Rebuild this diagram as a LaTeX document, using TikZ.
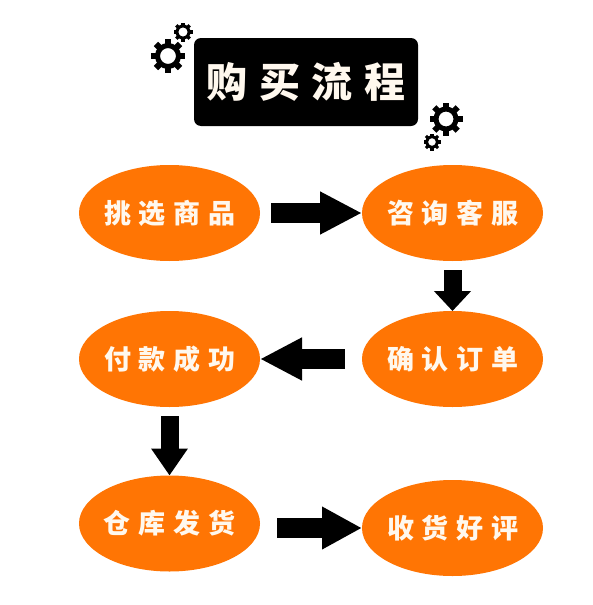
\documentclass[tikz,border=0pt]{standalone}
\usepackage{fontspec}
\usetikzlibrary{shapes.geometric,arrows.meta,calc}
\newfontfamily\cjkfont{Noto Sans CJK SC}
\definecolor{stepfill}{HTML}{FF7504}
\definecolor{softwhite}{HTML}{FFF8EE}
\newcommand{\spaced}[5]{\makebox[0pt][c]{#2\hspace{#1}#3\hspace{#1}#4\hspace{#1}#5}}
\tikzset{
  x=1pt,y=-1pt,
  stepnode/.style={ellipse,fill=stepfill,minimum width=181pt,minimum height=96pt,inner sep=0pt,outer sep=0pt,
    text=softwhite,font=\cjkfont\bfseries\fontsize{27}{30}\selectfont},
  titlebox/.style={rectangle,rounded corners=7pt,fill=black,minimum width=224pt,minimum height=88pt,inner sep=0pt,outer sep=0pt,
    text=softwhite,font=\cjkfont\bfseries\fontsize{41}{46}\selectfont},
  flow/.style={line width=20pt,draw=black,-{Triangle[length=42pt,width=40pt]}},
  pics/cog/.style n args={3}{code={
    \draw[line width=(#1-#2)*1pt,black] (0,0) circle ({(#1+#2)/2});
    \foreach \a in {0,45,...,315}{
      \draw[line width=0.36*#3*1pt,black] (\a:{(#1+#2)/2}) -- (\a:#3);
    }
  }}
}
\begin{document}
\begin{tikzpicture}
\useasboundingbox (0,0) rectangle (593,605);
\fill[white] (0,0) rectangle (593,605);
\node[titlebox] (title) at (306,82) {\spaced{11.5pt}{购}{买}{流}{程}};
\node[stepnode] (n1) at (169.5,213) {\hspace{1pt}\spaced{8pt}{挑}{选}{商}{品}};
\node[stepnode] (n2) at (452.5,213) {\hspace{1pt}\spaced{8pt}{咨}{询}{客}{服}};
\node[stepnode] (n4) at (452.5,359) {\hspace{1pt}\spaced{8pt}{确}{认}{订}{单}};
\node[stepnode] (n3) at (169.5,359) {\hspace{1pt}\spaced{8pt}{付}{款}{成}{功}};
\node[stepnode] (n5) at (169.5,523.5) {\spaced{8pt}{仓}{库}{发}{货}};
\node[stepnode] (n6) at (452.5,528) {\hspace{1pt}\spaced{8pt}{收}{货}{好}{评}};
\draw[flow,shorten <=11pt] (n1.east) -- (n2.west);
\draw[flow,line width=18pt,-{Triangle[length=20pt,width=36pt]},shorten <=9pt] (n2.south) -- (n4.north);
\draw[flow,shorten <=17pt] (n4.west) -- (n3.east);
\draw[flow,line width=18pt,-{Triangle[length=27pt,width=35pt]},shorten <=9pt] (n3.south) -- (n5.north);
\draw[flow,-{Triangle[length=40pt,width=40pt]},shorten <=17pt] (n6.west -| n5.east) -- (n6.west);
\pic at (168,56) {cog={13}{8}{17}};
\pic at (183,32) {cog={7.5}{4.5}{9.5}};
\pic at (446,119) {cog={12.5}{7.5}{16.5}};
\pic at (432,142) {cog={7}{4}{8.5}};
\end{tikzpicture}
\end{document}
